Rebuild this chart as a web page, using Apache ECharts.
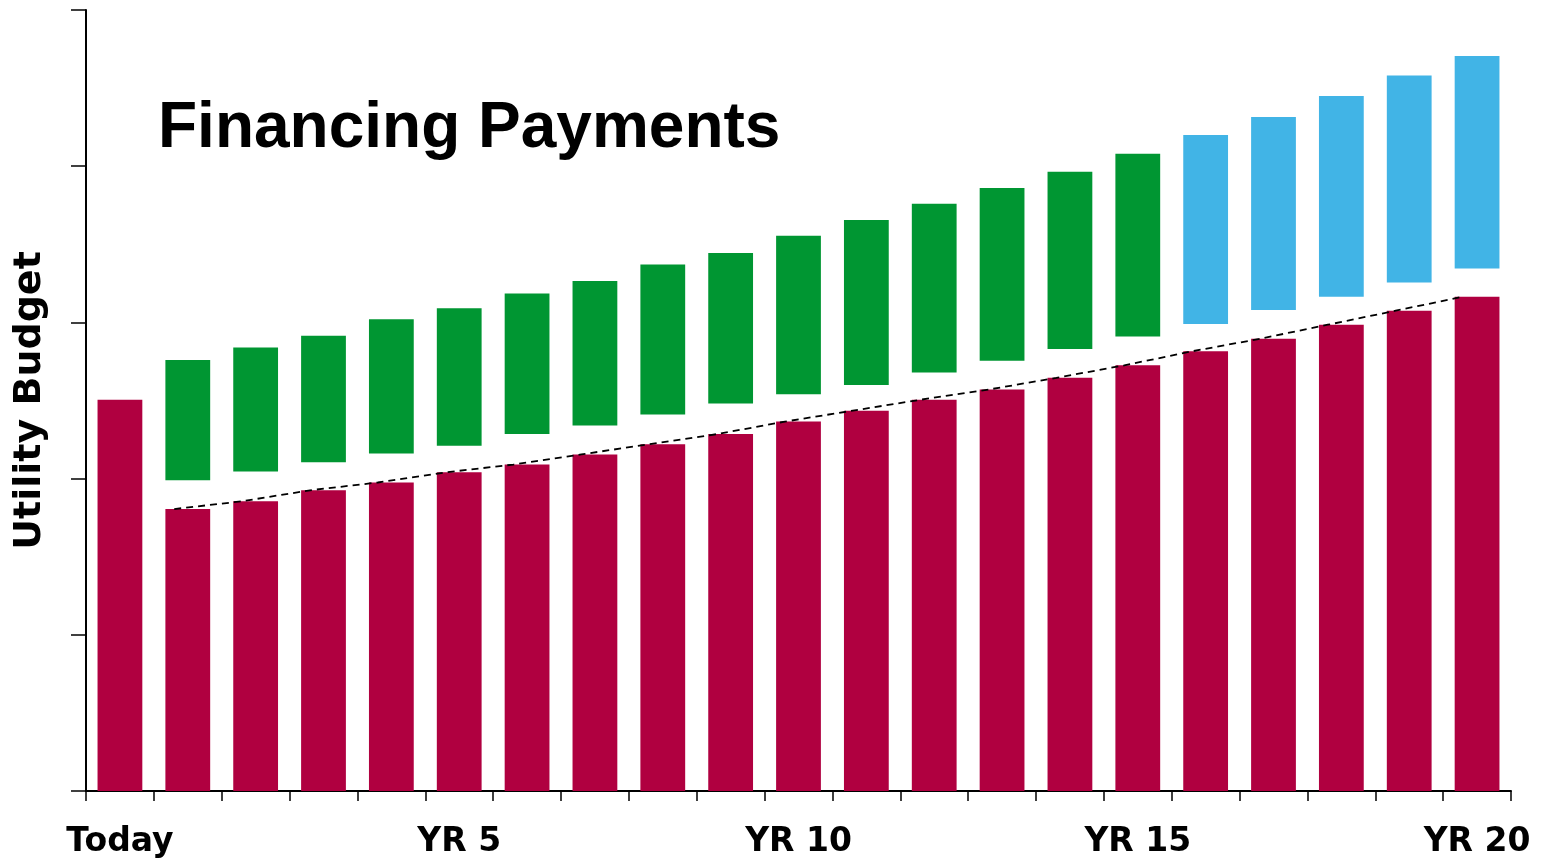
<!DOCTYPE html>
<html>
<head>
<meta charset="utf-8">
<title>Financing Payments</title>
<script src="https://cdn.jsdelivr.net/npm/echarts@6/dist/echarts.min.js"></script>
<style>
    html, body { margin: 0; padding: 0; background: #fff; }
    #main { width: 1546px; height: 859px; }
</style>
</head>
<body>
<div id="main"></div>
<script>
// categories: Today, then years 1..20
var years = ['Today'];
for (var y = 1; y <= 20; y++) {
    years.push('YR ' + y);
}

// utility budget bars (red), Today + years 1..20
var budget = [50.1, 36.1, 37.1, 38.5, 39.5, 40.8, 41.8, 43.1, 44.4, 45.7, 47.3,
    48.7, 50.1, 51.4, 52.9, 54.5, 56.3, 57.9, 59.7, 61.5, 63.3];

// financing payment blocks, years 1..15 (green)
var payLow = [39.8, 40.9, 42.1, 43.2, 44.2, 45.7, 46.8, 48.2, 49.6, 50.8, 52.0, 53.6, 55.1, 56.6, 58.2];
var payHigh = [55.2, 56.8, 58.3, 60.4, 61.8, 63.7, 65.3, 67.4, 68.9, 71.1, 73.1, 75.2, 77.2, 79.3, 81.6];

// blocks after financing ends, years 16..20 (blue)
var freeLow = [59.8, 61.6, 63.3, 65.1, 66.9];
var freeHigh = [84.0, 86.3, 89.0, 91.6, 94.1];

var myChart = echarts.init(document.getElementById('main'));

// build stacked pieces: red, transparent gap, green / blue
var gap = [], green = [], blue = [], trend = [];
for (var i = 0; i < years.length; i++) {
    if (i === 0) {
        gap.push('-'); green.push('-'); blue.push('-');
        continue;
    }
    var lo, hi;
    if (i <= payLow.length) {
        lo = payLow[i - 1]; hi = payHigh[i - 1];
        green.push(+(hi - lo).toFixed(2)); blue.push('-');
    } else {
        lo = freeLow[i - 1 - payLow.length]; hi = freeHigh[i - 1 - payLow.length];
        blue.push(+(hi - lo).toFixed(2)); green.push('-');
    }
    gap.push(+(lo - budget[i]).toFixed(2));
    // dashed trend runs along the top left corner of each red bar
    trend.push([i + 0.3, budget[i]]);
}

var option = {
    animation: false,
    title: {
        text: 'Financing Payments',
        left: 158,
        top: 97,
        padding: 0,
        textStyle: {fontFamily: 'Liberation Sans', fontWeight: 'bold', fontSize: 64, color: '#000'}
    },
    grid: {left: 86, right: 35, top: 10, bottom: 67},
    xAxis: [{
        type: 'category',
        data: years,
        axisLine: {show: true, lineStyle: {color: '#000', width: 2}},
        axisTick: {show: true, interval: 0, length: 10, lineStyle: {color: '#000', width: 1.5}},
        axisLabel: {
            interval: 4,
            margin: 35,
            fontFamily: 'DejaVu Sans',
            fontWeight: 'bold',
            fontSize: 33,
            color: '#000'
        }
    }, {
        type: 'value',
        min: 0,
        max: 21,
        show: false
    }],
    yAxis: {
        type: 'value',
        min: 0,
        max: 100,
        interval: 20,
        name: 'Utility Budget',
        nameLocation: 'middle',
        nameGap: 37,
        nameTextStyle: {fontFamily: 'DejaVu Sans', fontWeight: 'bold', fontSize: 38, color: '#000'},
        axisLine: {show: true, lineStyle: {color: '#000', width: 2}},
        axisTick: {show: true, length: 15, lineStyle: {color: '#000', width: 1.5}},
        axisLabel: {show: false},
        splitLine: {show: false}
    },
    series: [{
        name: 'Budget',
        type: 'bar',
        stack: 'total',
        barWidth: '66%',
        itemStyle: {color: '#B00040'},
        data: budget
    }, {
        name: 'gap',
        type: 'bar',
        stack: 'total',
        itemStyle: {color: 'rgba(0,0,0,0)'},
        data: gap
    }, {
        name: 'Financing',
        type: 'bar',
        stack: 'total',
        itemStyle: {color: '#009632'},
        data: green
    }, {
        name: 'Savings',
        type: 'bar',
        stack: 'total',
        itemStyle: {color: '#41B4E6'},
        data: blue
    }, {
        name: 'trend',
        type: 'line',
        xAxisIndex: 1,
        symbol: 'none',
        lineStyle: {color: '#000', width: 1.8, type: [7, 5]},
        data: trend
    }]
};
myChart.setOption(option);
</script>
</body>
</html>
